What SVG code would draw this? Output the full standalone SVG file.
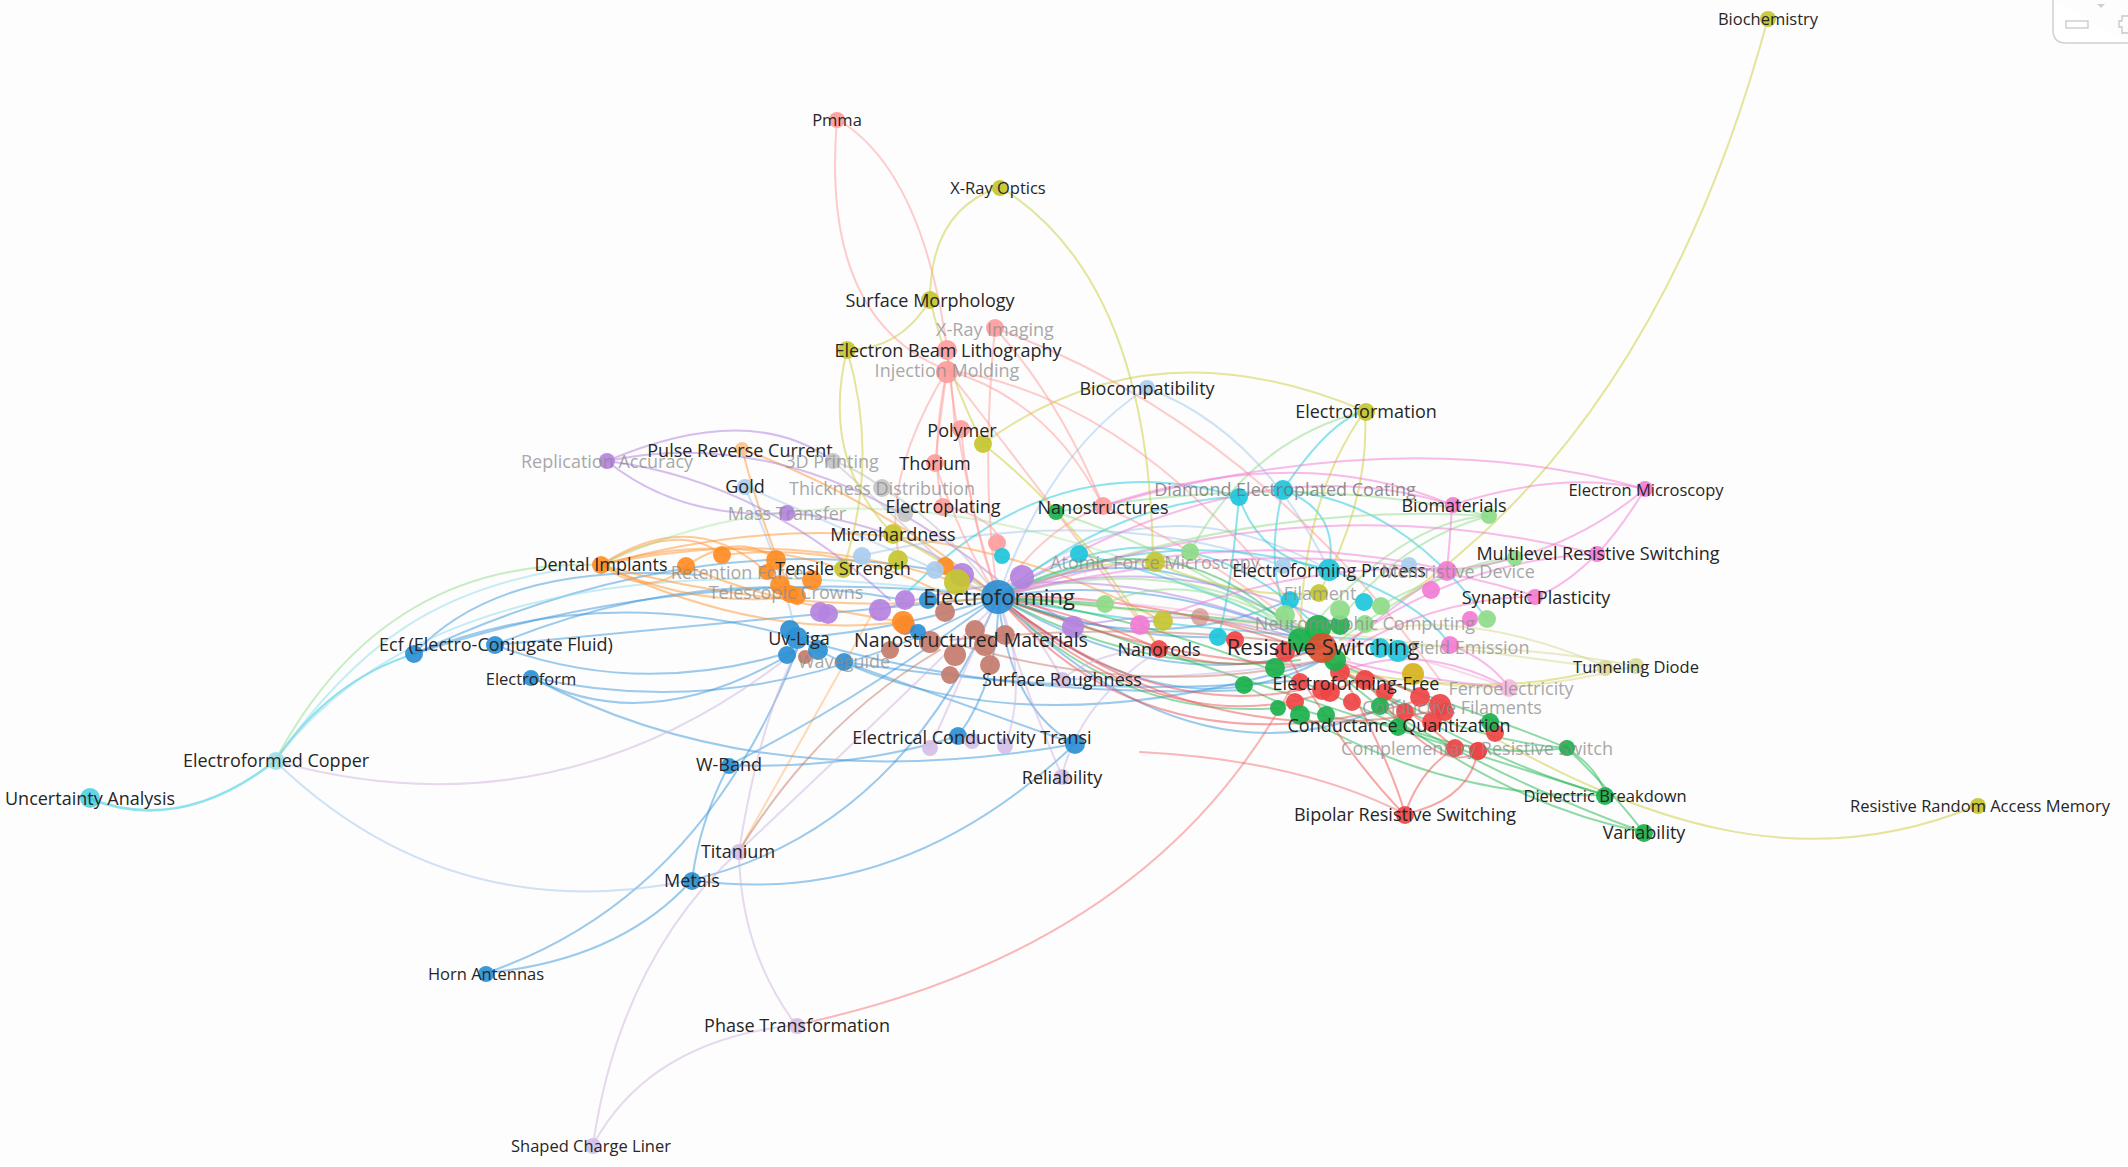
<svg xmlns="http://www.w3.org/2000/svg" width="2128" height="1167" viewBox="0 0 2128 1167">
<style>
.bg{fill:#fdfdfd}
circle{opacity:.92}
.c-blue{fill:#2b8fd3}.c-red{fill:#ef4444}.c-green{fill:#1bb14c}.c-olive{fill:#c5c530}.c-cyan{fill:#1ec6dc}
.c-orange{fill:#ff8c24}.c-purple{fill:#b482e0}.c-lpurple{fill:#d5bfe6}.c-brown{fill:#c47c6c}.c-pink{fill:#f27cd4}
.c-lred{fill:#ff9c9c}.c-lblue{fill:#a9cdee}.c-lgreen{fill:#8edb89}.c-grey{fill:#c4c4c4}.c-lcyan{fill:#a0e0ea}
.c-lolive{fill:#dadb98}.c-lorange{fill:#ffc38a}.c-lpink{fill:#f8b8dc}.c-dred{fill:#d8502e}.c-gold{fill:#d6b21e}
#edges path{fill:none;stroke-width:2;stroke-opacity:.5;stroke-linecap:round}
.e-blue{stroke:#3a98dc}.e-red{stroke:#f05050}.e-green{stroke:#22b552}.e-olive{stroke:#cccc3a}.e-cyan{stroke:#1ec8de}
.e-orange{stroke:#ff9530}.e-purple{stroke:#b07ee0}.e-lpurple{stroke:#cdb4e2}.e-lred{stroke:#ff9a9a}.e-lblue{stroke:#9fc6ee}
.e-lgreen{stroke:#8fdc88}.e-grey{stroke:#bdbdbd}.e-brown{stroke:#c47a6a}.e-lcyan{stroke:#8fdcea}.e-pink{stroke:#f27ad6}.e-lolive{stroke:#d8d890}.e-lpink{stroke:#f6b0d6}
text{font-family:"Open Sans","Noto Sans","DejaVu Sans",sans-serif;font-size:18px;text-anchor:middle;dominant-baseline:central;fill:#262626}
.s{font-size:16.5px}.xl{font-size:22px}.l{font-size:19.5px}
.f{fill:#8c8c8c;opacity:.75}
</style>
<rect class="bg" x="0" y="0" width="2128" height="1167"/>
<g id="ui-corner">
<path d="M2053,0 V30 Q2053,43 2066,43 H2128" fill="#ffffff" stroke="#d0d0d0" stroke-width="1.5"/>
<rect x="2066" y="21" width="22" height="7" fill="none" stroke="#c8c8c8" stroke-width="1.3"/>
<path d="M2097,4 l4,4 l4,-4 z" fill="#d0d0d0"/>
<path d="M2128,16 h-6 v5 h-3 v6 h3 v6 h6" fill="none" stroke="#c8c8c8" stroke-width="1.3"/>
</g>
<g id="edges">
<path class="e-blue" d="M998,597 Q1160,520 1323,647"/>
<path class="e-blue" d="M998,597 Q1160,570 1323,647"/>
<path class="e-blue" d="M998,597 Q1170,700 1323,647"/>
<path class="e-blue" d="M998,597 Q1170,740 1323,660"/>
<path class="e-blue" d="M998,597 Q700,560 414,654"/>
<path class="e-blue" d="M998,597 Q760,620 495,645"/>
<path class="e-blue" d="M998,597 Q760,730 531,677"/>
<path class="e-blue" d="M998,597 Q900,630 797,638"/>
<path class="e-blue" d="M998,597 Q860,700 729,765"/>
<path class="e-blue" d="M998,597 Q900,830 692,880"/>
<path class="e-blue" d="M486,973 Q700,900 797,650"/>
<path class="e-blue" d="M486,973 Q620,960 692,880"/>
<path class="e-blue" d="M692,880 Q900,910 1075,744"/>
<path class="e-blue" d="M692,880 Q700,820 729,765"/>
<path class="e-blue" d="M729,765 Q850,770 958,736"/>
<path class="e-blue" d="M998,597 Q1010,710 1075,744"/>
<path class="e-blue" d="M414,654 Q600,580 797,638"/>
<path class="e-blue" d="M495,645 Q640,700 797,650"/>
<path class="e-blue" d="M531,677 Q650,740 797,650"/>
<path class="e-blue" d="M414,654 Q500,560 700,575"/>
<path class="e-blue" d="M998,597 Q1000,680 958,736"/>
<path class="e-blue" d="M844,662 Q950,700 1075,744"/>
<path class="e-blue" d="M998,597 Q1200,800 1400,700"/>
<path class="e-blue" d="M797,638 Q1000,760 1323,660"/>
<path class="e-blue" d="M531,677 Q760,800 1075,744"/>
<path class="e-blue" d="M998,597 Q1120,640 1218,637"/>
<path class="e-blue" d="M998,597 Q1150,660 1290,600"/>
<path class="e-blue" d="M797,638 Q1000,700 1250,690"/>
<path class="e-blue" d="M844,662 Q1100,700 1300,680"/>
<path class="e-blue" d="M414,654 Q700,520 960,575"/>
<path class="e-blue" d="M495,645 Q700,560 905,600"/>
<path class="e-lblue" d="M998,597 Q1150,470 1329,570"/>
<path class="e-lblue" d="M1147,388 Q1050,450 998,597"/>
<path class="e-lblue" d="M1147,388 Q1260,430 1329,570"/>
<path class="e-lblue" d="M860,556 Q1100,500 1283,566"/>
<path class="e-lblue" d="M744,486 Q870,540 998,597"/>
<path class="e-lblue" d="M744,486 Q780,560 797,638"/>
<path class="e-cyan" d="M88,798 Q180,835 275,761" style="stroke-width:2.6"/>
<path class="e-cyan" d="M275,761 Q330,680 414,654"/>
<path class="e-lcyan" d="M275,761 C360,640 440,590 560,570"/>
<path class="e-cyan" d="M1239,497 Q1260,560 1329,570"/>
<path class="e-cyan" d="M1283,490 Q1340,510 1329,570"/>
<path class="e-cyan" d="M1239,497 Q1120,500 998,597"/>
<path class="e-cyan" d="M1283,490 Q1260,580 1300,640"/>
<path class="e-cyan" d="M1283,490 Q1330,420 1365,411"/>
<path class="e-cyan" d="M1329,570 Q1160,520 998,597"/>
<path class="e-cyan" d="M1079,554 Q1200,580 1323,647"/>
<path class="e-cyan" d="M998,597 Q1160,630 1380,640"/>
<path class="e-cyan" d="M1239,497 Q1050,440 900,600"/>
<path class="e-cyan" d="M1239,497 Q1230,600 1218,637"/>
<path class="e-cyan" d="M998,597 Q1180,480 1330,640"/>
<path class="e-cyan" d="M1283,490 Q1400,500 1487,619"/>
<path class="e-cyan" d="M1329,570 Q1420,600 1450,645"/>
<path class="e-lcyan" d="M275,761 C380,620 600,540 998,597"/>
<path class="e-lgreen" d="M275,761 C350,620 460,560 601,565"/>
<path class="e-lblue" d="M275,761 Q450,930 692,880"/>
<path class="e-lpurple" d="M275,761 Q560,840 797,650"/>
<path class="e-orange" d="M601,565 Q800,520 998,597"/>
<path class="e-orange" d="M601,565 Q800,620 998,597"/>
<path class="e-orange" d="M601,565 Q720,530 843,569"/>
<path class="e-orange" d="M601,565 Q650,600 686,566"/>
<path class="e-orange" d="M686,566 Q740,530 776,560"/>
<path class="e-orange" d="M742,449 Q760,520 790,590"/>
<path class="e-orange" d="M601,565 Q900,480 1160,620"/>
<path class="e-orange" d="M880,600 Q790,760 739,851" style="stroke-opacity:.35"/>
<path class="e-orange" d="M722,555 Q850,540 955,600"/>
<path class="e-orange" d="M601,565 Q700,500 780,585"/>
<path class="e-orange" d="M601,565 Q760,640 900,622"/>
<path class="e-orange" d="M742,449 Q880,500 998,597"/>
<path class="e-orange" d="M601,565 Q680,520 722,555"/>
<path class="e-orange" d="M601,565 Q700,610 797,596"/>
<path class="e-orange" d="M686,566 Q760,600 903,622"/>
<path class="e-purple" d="M607,461 Q680,520 787,513"/>
<path class="e-purple" d="M607,461 Q800,420 998,580"/>
<path class="e-purple" d="M607,461 Q760,480 890,600"/>
<path class="e-purple" d="M787,513 Q900,520 998,597"/>
<path class="e-purple" d="M998,597 Q1040,600 1073,627"/>
<path class="e-purple" d="M1073,627 Q1200,600 1323,647"/>
<path class="e-purple" d="M607,461 Q750,400 833,461"/>
<path class="e-purple" d="M998,597 Q1160,545 1340,625"/>
<path class="e-purple" d="M880,610 Q1100,540 1323,647"/>
<path class="e-grey" d="M833,461 Q860,470 882,488"/>
<path class="e-grey" d="M882,488 Q940,520 998,597"/>
<path class="e-grey" d="M833,461 Q900,520 960,580"/>
<path class="e-lred" d="M837,119 Q820,320 947,370"/>
<path class="e-lred" d="M837,119 Q940,180 955,430"/>
<path class="e-lred" d="M947,350 Q960,480 998,597"/>
<path class="e-lred" d="M947,370 Q940,420 935,463"/>
<path class="e-lred" d="M947,370 Q930,450 942,505"/>
<path class="e-lred" d="M947,370 Q1050,400 1103,506"/>
<path class="e-lred" d="M947,370 Q1150,400 1323,647"/>
<path class="e-lred" d="M995,328 Q980,480 998,597"/>
<path class="e-lred" d="M995,328 Q1060,400 1103,506"/>
<path class="e-lred" d="M961,429 Q970,520 998,597"/>
<path class="e-lred" d="M935,463 Q960,540 998,597"/>
<path class="e-lred" d="M1103,506 Q1220,560 1323,647"/>
<path class="e-lred" d="M1103,506 Q1040,530 998,597"/>
<path class="e-lred" d="M942,505 Q1000,520 1000,545"/>
<path class="e-lred" d="M947,370 Q880,480 900,560"/>
<path class="e-lred" d="M995,328 Q1250,420 1440,680"/>
<path class="e-lred" d="M947,370 Q1010,450 1160,649"/>
<path class="e-olive" d="M1000,187 Q930,210 930,300"/>
<path class="e-olive" d="M1000,187 Q1150,280 1153,562"/>
<path class="e-olive" d="M930,300 Q900,350 847,350"/>
<path class="e-olive" d="M930,300 Q950,380 983,444"/>
<path class="e-olive" d="M847,350 Q820,460 893,534"/>
<path class="e-olive" d="M847,350 Q880,460 843,569"/>
<path class="e-olive" d="M983,444 Q1150,320 1365,411"/>
<path class="e-olive" d="M1365,411 Q1370,500 1319,593"/>
<path class="e-olive" d="M1365,411 Q1300,500 1300,650"/>
<path class="e-olive" d="M1768,18 Q1660,420 1400,600"/>
<path class="e-olive" d="M1153,562 Q1080,560 998,597"/>
<path class="e-olive" d="M983,444 Q1080,520 1159,649"/>
<path class="e-lolive" d="M1605,666 Q1450,600 1340,640"/>
<path class="e-lolive" d="M1635,666 Q1500,700 1420,680"/>
<path class="e-lolive" d="M998,597 Q1250,620 1605,668"/>
<path class="e-lolive" d="M1323,647 Q1500,640 1636,666"/>
<path class="e-olive" d="M1340,670 Q1500,700 1605,668"/>
<path class="e-olive" d="M1978,805 C1800,880 1640,820 1480,730"/>
<path class="e-olive" d="M893,534 Q940,560 998,597"/>
<path class="e-olive" d="M1153,562 Q1240,600 1319,593"/>
<path class="e-lgreen" d="M1365,411 Q1250,440 1190,552"/>
<path class="e-lgreen" d="M1489,516 Q1400,540 1340,620"/>
<path class="e-lgreen" d="M1105,604 Q1200,560 1323,647"/>
<path class="e-lgreen" d="M1056,512 Q1200,560 1300,640"/>
<path class="e-lgreen" d="M1323,647 Q900,420 601,565" style="stroke-opacity:.35"/>
<path class="e-lgreen" d="M1489,516 Q1300,470 1056,512"/>
<path class="e-lgreen" d="M1515,558 Q1420,580 1381,606"/>
<path class="e-lgreen" d="M998,597 Q1200,540 1350,660"/>
<path class="e-lgreen" d="M998,597 Q1250,500 1489,516"/>
<path class="e-lgreen" d="M1340,640 Q1450,560 1515,558"/>
<path class="e-lgreen" d="M1300,640 Q1400,520 1489,516"/>
<path class="e-green" d="M1323,660 Q1480,760 1605,795"/>
<path class="e-green" d="M1323,660 Q1480,800 1643,832"/>
<path class="e-green" d="M1567,748 Q1600,770 1605,795"/>
<path class="e-green" d="M1567,748 Q1620,800 1643,832"/>
<path class="e-green" d="M998,597 Q1150,680 1300,660"/>
<path class="e-green" d="M998,597 Q1160,610 1320,630"/>
<path class="e-green" d="M1244,685 Q1300,720 1398,725"/>
<path class="e-green" d="M1398,725 Q1480,760 1567,748"/>
<path class="e-green" d="M1323,660 Q1500,720 1567,748"/>
<path class="e-green" d="M1105,604 Q1050,600 998,597"/>
<path class="e-green" d="M998,597 Q1120,720 1278,708"/>
<path class="e-green" d="M998,597 Q1180,500 1310,650"/>
<path class="e-green" d="M998,597 Q1180,620 1398,725"/>
<path class="e-green" d="M998,597 Q1300,700 1605,795"/>
<path class="e-green" d="M1323,660 Q1450,740 1567,748"/>
<path class="e-green" d="M1300,715 Q1450,800 1605,795"/>
<path class="e-green" d="M1380,706 Q1500,780 1643,832"/>
<path class="e-red" d="M1340,670 Q1390,760 1405,814"/>
<path class="e-red" d="M1455,748 Q1420,770 1405,814"/>
<path class="e-red" d="M1478,750 Q1470,800 1405,814"/>
<path class="e-red" d="M1323,647 Q1240,680 1159,649"/>
<path class="e-red" d="M998,597 Q1160,660 1300,665"/>
<path class="e-red" d="M998,597 Q1150,720 1300,690"/>
<path class="e-red" d="M796,1025 Q1150,950 1290,690" style="stroke-opacity:.4"/>
<path class="e-red" d="M1159,649 Q1100,620 998,597"/>
<path class="e-red" d="M1323,660 Q1400,700 1455,748"/>
<path class="e-red" d="M1140,752 Q1300,760 1405,814" style="stroke-opacity:.4"/>
<path class="e-red" d="M998,597 Q1200,760 1440,710"/>
<path class="e-red" d="M998,597 Q1180,760 1360,680"/>
<path class="e-red" d="M998,597 Q1150,780 1420,700"/>
<path class="e-red" d="M998,597 Q1200,590 1440,705"/>
<path class="e-red" d="M1365,680 Q1440,780 1478,751"/>
<path class="e-red" d="M1285,652 Q1350,760 1405,815"/>
<path class="e-pink" d="M1645,489 Q1560,560 1447,570"/>
<path class="e-pink" d="M1645,489 Q1620,530 1597,554"/>
<path class="e-pink" d="M1452,505 Q1450,540 1447,570"/>
<path class="e-pink" d="M1597,554 Q1460,560 1350,640"/>
<path class="e-pink" d="M1535,596 Q1430,600 1350,650"/>
<path class="e-pink" d="M998,597 Q1250,440 1452,505"/>
<path class="e-pink" d="M1103,506 Q1300,440 1452,505"/>
<path class="e-pink" d="M1450,645 Q1490,660 1509,688"/>
<path class="e-pink" d="M1447,570 Q1400,600 1340,650"/>
<path class="e-pink" d="M1140,625 Q1300,560 1447,570"/>
<path class="e-pink" d="M1509,688 Q1420,680 1340,660"/>
<path class="e-pink" d="M1452,505 Q1560,470 1645,489"/>
<path class="e-pink" d="M1597,554 Q1560,590 1535,596"/>
<path class="e-pink" d="M998,597 Q1220,520 1447,570"/>
<path class="e-pink" d="M998,597 Q1300,480 1597,554"/>
<path class="e-pink" d="M998,597 Q1300,520 1535,596"/>
<path class="e-pink" d="M1103,506 Q1400,420 1645,489"/>
<path class="e-pink" d="M1340,672 Q1420,640 1509,688"/>
<path class="e-lpink" d="M998,597 Q1260,600 1509,688"/>
<path class="e-lpurple" d="M1062,679 Q1030,620 998,597"/>
<path class="e-lpurple" d="M1062,776 Q1020,680 998,597"/>
<path class="e-lpurple" d="M739,851 Q900,700 990,610"/>
<path class="e-lpurple" d="M796,1025 Q740,950 739,851"/>
<path class="e-lpurple" d="M593,1145 Q620,960 739,851"/>
<path class="e-lpurple" d="M593,1145 Q650,1040 796,1025"/>
<path class="e-lpurple" d="M739,851 Q760,720 797,650"/>
<path class="e-lpurple" d="M930,748 Q960,680 998,597"/>
<path class="e-lpurple" d="M1005,746 Q1030,680 998,597"/>
<path class="e-lpurple" d="M1062,679 Q1200,680 1323,660"/>
<path class="e-lpurple" d="M1062,776 Q1080,700 1160,650"/>
<path class="e-lpurple" d="M1062,679 Q1100,650 1159,649"/>
<path class="e-brown" d="M739,851 Q820,720 940,650"/>
<path class="e-brown" d="M960,645 Q1150,700 1323,660"/>
<path class="e-brown" d="M1200,617 Q1260,630 1323,647"/>
<path class="e-brown" d="M950,640 Q1150,620 1323,647"/>
</g>
<g id="n-u1"><circle class="c-purple" cx="820" cy="612" r="10"/></g>
<g id="n-u2"><circle class="c-purple" cx="880" cy="610" r="11"/></g>
<g id="n-u3"><circle class="c-purple" cx="905" cy="600" r="10"/></g>
<g id="n-u4"><circle class="c-purple" cx="962" cy="575" r="12"/></g>
<g id="n-u5"><circle class="c-purple" cx="1022" cy="577" r="12"/></g>
<g id="n-u6"><circle class="c-purple" cx="1073" cy="627" r="11"/></g>
<g id="n-u7"><circle class="c-purple" cx="828" cy="614" r="10"/></g>
<g id="n-u8"><circle class="c-brown" cx="905" cy="625" r="10"/></g>
<g id="n-u9"><circle class="c-brown" cx="930" cy="642" r="11"/></g>
<g id="n-u10"><circle class="c-brown" cx="955" cy="655" r="11"/></g>
<g id="n-u11"><circle class="c-brown" cx="985" cy="645" r="11"/></g>
<g id="n-u12"><circle class="c-brown" cx="945" cy="612" r="10"/></g>
<g id="n-u13"><circle class="c-brown" cx="890" cy="650" r="9"/></g>
<g id="n-u14"><circle class="c-brown" cx="1005" cy="635" r="10"/></g>
<g id="n-u15"><circle class="c-brown" cx="950" cy="675" r="9"/></g>
<g id="n-u16"><circle class="c-brown" cx="990" cy="665" r="10"/></g>
<g id="n-u17"><circle class="c-brown" cx="805" cy="657" r="7"/></g>
<g id="n-u18"><circle class="c-orange" cx="722" cy="555" r="9"/></g>
<g id="n-u19"><circle class="c-orange" cx="776" cy="560" r="10"/></g>
<g id="n-u20"><circle class="c-orange" cx="780" cy="585" r="10"/></g>
<g id="n-u21"><circle class="c-orange" cx="797" cy="596" r="9"/></g>
<g id="n-u22"><circle class="c-orange" cx="812" cy="580" r="10"/></g>
<g id="n-u23"><circle class="c-orange" cx="903" cy="622" r="11"/></g>
<g id="n-u24"><circle class="c-orange" cx="945" cy="566" r="9"/></g>
<g id="n-u25"><circle class="c-orange" cx="767" cy="572" r="8"/></g>
<g id="n-u26"><circle class="c-olive" cx="898" cy="560" r="10"/></g>
<g id="n-u27"><circle class="c-olive" cx="957" cy="582" r="13"/></g>
<g id="n-u28"><circle class="c-lblue" cx="862" cy="556" r="9"/></g>
<g id="n-u29"><circle class="c-lblue" cx="935" cy="570" r="9"/></g>
<g id="n-u30"><circle class="c-blue" cx="928" cy="600" r="9"/></g>
<g id="n-u31"><circle class="c-blue" cx="918" cy="632" r="8"/></g>
<g id="n-u32"><circle class="c-lred" cx="997" cy="543" r="9"/></g>
<g id="n-u33"><circle class="c-cyan" cx="1002" cy="556" r="8"/></g>
<g id="n-u34"><circle class="c-blue" cx="787" cy="655" r="9"/></g>
<g id="n-u35"><circle class="c-blue" cx="818" cy="650" r="10"/></g>
<g id="n-u36"><circle class="c-lgreen" cx="1105" cy="604" r="9"/></g>
<g id="n-u37"><circle class="c-pink" cx="1140" cy="625" r="10"/></g>
<g id="n-u38"><circle class="c-olive" cx="1163" cy="621" r="10"/></g>
<g id="n-u39"><circle class="c-brown" cx="1200" cy="617" r="9" style="opacity:.6"/></g>
<g id="n-u40"><circle class="c-cyan" cx="1079" cy="554" r="9"/></g>
<g id="n-u41"><circle class="c-lgreen" cx="1190" cy="552" r="9"/></g>
<g id="n-u42"><circle class="c-green" cx="1056" cy="512" r="8"/></g>
<g id="n-u43"><circle class="c-cyan" cx="1218" cy="637" r="9"/></g>
<g id="n-u44"><circle class="c-cyan" cx="1290" cy="600" r="9"/></g>
<g id="n-u45"><circle class="c-cyan" cx="1364" cy="602" r="9"/></g>
<g id="n-u46"><circle class="c-cyan" cx="1398" cy="651" r="11"/></g>
<g id="n-u47"><circle class="c-cyan" cx="1380" cy="648" r="10"/></g>
<g id="n-u48"><circle class="c-red" cx="1235" cy="640" r="9"/></g>
<g id="n-u49"><circle class="c-red" cx="1285" cy="652" r="10"/></g>
<g id="n-u50"><circle class="c-red" cx="1340" cy="672" r="10"/></g>
<g id="n-u51"><circle class="c-red" cx="1365" cy="680" r="10"/></g>
<g id="n-u52"><circle class="c-red" cx="1385" cy="692" r="9"/></g>
<g id="n-u53"><circle class="c-red" cx="1300" cy="682" r="9"/></g>
<g id="n-u54"><circle class="c-red" cx="1330" cy="692" r="10"/></g>
<g id="n-u55"><circle class="c-red" cx="1420" cy="697" r="10"/></g>
<g id="n-u56"><circle class="c-red" cx="1405" cy="712" r="9"/></g>
<g id="n-u57"><circle class="c-red" cx="1440" cy="705" r="11"/></g>
<g id="n-u58"><circle class="c-red" cx="1432" cy="722" r="10"/></g>
<g id="n-u59"><circle class="c-red" cx="1455" cy="748" r="9"/></g>
<g id="n-u60"><circle class="c-red" cx="1478" cy="751" r="9"/></g>
<g id="n-u61"><circle class="c-red" cx="1295" cy="702" r="9"/></g>
<g id="n-u62"><circle class="c-red" cx="1352" cy="702" r="9"/></g>
<g id="n-u63"><circle class="c-red" cx="1495" cy="733" r="9"/></g>
<g id="n-u64"><circle class="c-green" cx="1300" cy="640" r="12"/></g>
<g id="n-u65"><circle class="c-green" cx="1318" cy="628" r="13"/></g>
<g id="n-u66"><circle class="c-green" cx="1340" cy="625" r="10"/></g>
<g id="n-u67"><circle class="c-green" cx="1275" cy="668" r="10"/></g>
<g id="n-u68"><circle class="c-green" cx="1244" cy="685" r="9"/></g>
<g id="n-u69"><circle class="c-green" cx="1300" cy="715" r="10"/></g>
<g id="n-u70"><circle class="c-green" cx="1278" cy="708" r="8"/></g>
<g id="n-u71"><circle class="c-green" cx="1326" cy="715" r="9"/></g>
<g id="n-u72"><circle class="c-green" cx="1380" cy="706" r="9"/></g>
<g id="n-u73"><circle class="c-green" cx="1490" cy="722" r="9"/></g>
<g id="n-u74"><circle class="c-green" cx="1335" cy="660" r="11"/></g>
<g id="n-u75"><circle class="c-lgreen" cx="1285" cy="615" r="10"/></g>
<g id="n-u76"><circle class="c-lgreen" cx="1340" cy="610" r="10"/></g>
<g id="n-u77"><circle class="c-lgreen" cx="1381" cy="606" r="9"/></g>
<g id="n-u78"><circle class="c-lgreen" cx="1487" cy="619" r="9"/></g>
<g id="n-u79"><circle class="c-lgreen" cx="1515" cy="558" r="8"/></g>
<g id="n-u80"><circle class="c-gold" cx="1413" cy="674" r="11"/></g>
<g id="n-u81"><circle class="c-pink" cx="1431" cy="590" r="9"/></g>
<g id="n-u82"><circle class="c-pink" cx="1470" cy="619" r="8"/></g>
<g id="n-u83"><circle class="c-lblue" cx="1283" cy="566" r="8"/></g>
<g id="n-u84"><circle class="c-lblue" cx="1409" cy="565" r="8"/></g>
<g id="n-u85"><circle class="c-olive" cx="847" cy="350" r="9"/></g>
<g id="n-u86"><circle class="c-olive" cx="983" cy="444" r="9"/></g>
<g id="n-u87"><circle class="c-grey" cx="905" cy="514" r="8"/></g>
<g id="n-u88"><circle class="c-lgreen" cx="1489" cy="516" r="8"/></g>
<g id="n-u89"><circle class="c-cyan" cx="1239" cy="497" r="9"/></g>
<g id="n-u90"><circle class="c-lpurple" cx="930" cy="748" r="8"/></g>
<g id="n-u91"><circle class="c-lpurple" cx="1005" cy="746" r="8"/></g>
<g id="n-u92"><circle class="c-blue" cx="1075" cy="744" r="10"/></g>
<g id="n-u93"><circle class="c-blue" cx="414" cy="654" r="9"/></g>
<g id="n-u94"><circle class="c-lolive" cx="1605" cy="668" r="8"/></g>
<g id="n-u95"><circle class="c-green" cx="1567" cy="748" r="8"/></g>
<g id="n-u96"><circle class="c-lblue" cx="1147" cy="388" r="8"/></g>
<g id="n-u97"><circle class="c-blue" cx="797" cy="638" r="11"/></g>
<g id="n-biochemistry"><circle class="c-olive" cx="1768" cy="19" r="8"/><text class="s" x="1768" y="18">Biochemistry</text></g>
<g id="n-pmma"><circle class="c-lred" cx="837" cy="120" r="8"/><text class="s" x="837" y="119">Pmma</text></g>
<g id="n-xray-optics"><circle class="c-olive" cx="1000" cy="188" r="8"/><text class="s" x="998" y="187">X-Ray Optics</text></g>
<g id="n-surface-morphology"><circle class="c-olive" cx="930" cy="300" r="9"/><text x="930" y="300">Surface Morphology</text></g>
<g id="n-xray-imaging"><circle class="c-lred" cx="995" cy="328" r="9"/><text class="f" x="995" y="329">X-Ray Imaging</text></g>
<g id="n-ebl"><circle class="c-lred" cx="947" cy="350" r="10"/><text x="948" y="350">Electron Beam Lithography</text></g>
<g id="n-injection"><circle class="c-lred" cx="947" cy="372" r="11"/><text class="f" x="947" y="370">Injection Molding</text></g>
<g id="n-biocompatibility"><text x="1147" y="388">Biocompatibility</text></g>
<g id="n-electroformation"><circle class="c-olive" cx="1366" cy="412" r="9"/><text x="1366" y="411">Electroformation</text></g>
<g id="n-polymer"><circle class="c-lred" cx="961" cy="429" r="9"/><text x="962" y="430">Polymer</text></g>
<g id="n-thorium"><circle class="c-lred" cx="935" cy="463" r="9"/><text x="935" y="463">Thorium</text></g>
<g id="n-prc"><circle class="c-lorange" cx="742" cy="449" r="7"/><text x="740" y="450">Pulse Reverse Current</text></g>
<g id="n-replication"><circle class="c-purple" cx="607" cy="461" r="8"/><text class="f" x="607" y="461">Replication Accuracy</text></g>
<g id="n-3dprinting"><circle class="c-grey" cx="833" cy="461" r="8"/><text class="f" x="832" y="461">3D Printing</text></g>
<g id="n-gold"><circle class="c-lblue" cx="745" cy="487" r="8"/><text x="745" y="486">Gold</text></g>
<g id="n-thickness"><circle class="c-grey" cx="882" cy="488" r="9"/><text class="f" x="882" y="488">Thickness Distribution</text></g>
<g id="n-mass-transfer"><circle class="c-purple" cx="787" cy="513" r="8"/><text class="f" x="787" y="513">Mass Transfer</text></g>
<g id="n-electroplating"><circle class="c-lred" cx="943" cy="507" r="9"/><text x="943" y="506">Electroplating</text></g>
<g id="n-nanostructures"><circle class="c-lred" cx="1103" cy="506" r="9"/><text x="1103" y="507">Nanostructures</text></g>
<g id="n-diamond"><circle class="c-cyan" cx="1283" cy="490" r="10"/><text class="f" x="1285" y="489" style="fill:#6c6c6c">Diamond Electroplated Coating</text></g>
<g id="n-biomaterials"><circle class="c-pink" cx="1453" cy="505" r="8"/><text x="1454" y="505">Biomaterials</text></g>
<g id="n-electron-microscopy"><circle class="c-pink" cx="1645" cy="489" r="8"/><text class="s" x="1646" y="489">Electron Microscopy</text></g>
<g id="n-microhardness"><circle class="c-olive" cx="893" cy="534" r="10"/><text x="893" y="534">Microhardness</text></g>
<g id="n-dental"><circle class="c-orange" cx="601" cy="565" r="9"/><text x="601" y="564">Dental Implants</text></g>
<g id="n-retention"><circle class="c-orange" cx="686" cy="566" r="9"/><text class="f" x="737" y="572">Retention Force</text></g>
<g id="n-telescopic"><circle class="c-orange" cx="790" cy="594" r="9"/><text class="f" x="786" y="592">Telescopic Crowns</text></g>
<g id="n-tensile"><circle class="c-olive" cx="843" cy="569" r="9"/><text x="843" y="568">Tensile Strength</text></g>
<g id="n-electroforming"><circle class="c-blue" cx="998" cy="597" r="17"/><text class="xl" x="999" y="596">Electroforming</text></g>
<g id="n-afm"><circle class="c-olive" cx="1155" cy="562" r="10"/><text class="f" x="1155" y="562">Atomic Force Microscopy</text></g>
<g id="n-ef-process"><circle class="c-cyan" cx="1329" cy="570" r="11"/><text x="1329" y="570">Electroforming Process</text></g>
<g id="n-memristive"><circle class="c-pink" cx="1447" cy="571" r="10"/><text class="f" x="1458" y="571">Memristive Device</text></g>
<g id="n-filament"><circle class="c-olive" cx="1319" cy="593" r="9"/><text class="f" x="1320" y="593">Filament</text></g>
<g id="n-multilevel"><circle class="c-pink" cx="1597" cy="554" r="8"/><text x="1598" y="553">Multilevel Resistive Switching</text></g>
<g id="n-synaptic"><circle class="c-pink" cx="1535" cy="597" r="8"/><text x="1536" y="597">Synaptic Plasticity</text></g>
<g id="n-neuromorphic"><circle class="c-lgreen" cx="1365" cy="624" r="9"/><text class="f" x="1365" y="623">Neuromorphic Computing</text></g>
<g id="n-resistive-switching"><circle class="c-dred" cx="1322" cy="648" r="15"/><text class="xl" x="1323" y="646">Resistive Switching</text></g>
<g id="n-nanorods"><circle class="c-red" cx="1159" cy="649" r="9"/><text x="1159" y="649">Nanorods</text></g>
<g id="n-field-emission"><circle class="c-pink" cx="1450" cy="645" r="9"/><text class="f" x="1470" y="647">Field Emission</text></g>
<g id="n-ferroelectricity"><circle class="c-lpink" cx="1509" cy="688" r="9"/><text class="f" x="1511" y="688">Ferroelectricity</text></g>
<g id="n-filaments"><circle class="c-red" cx="1445" cy="712" r="9"/><text class="f" x="1452" y="707">Conductive Filaments</text></g>
<g id="n-ef-free"><circle class="c-red" cx="1322" cy="690" r="10"/><text x="1356" y="683">Electroforming-Free</text></g>
<g id="n-conductance"><circle class="c-green" cx="1398" cy="727" r="9"/><text x="1399" y="725">Conductance Quantization</text></g>
<g id="n-complementary"><circle class="c-red" cx="1478" cy="751" r="9"/><text class="f" x="1477" y="748">Complementary Resistive Switch</text></g>
<g id="n-tunneling"><circle class="c-lolive" cx="1636" cy="666" r="8"/><text class="s" x="1636" y="666">Tunneling Diode</text></g>
<g id="n-dielectric"><circle class="c-green" cx="1605" cy="796" r="9"/><text class="s" x="1605" y="795">Dielectric Breakdown</text></g>
<g id="n-variability"><circle class="c-green" cx="1644" cy="833" r="9"/><text x="1644" y="832">Variability</text></g>
<g id="n-rram"><circle class="c-olive" cx="1978" cy="806" r="8"/><text class="s" x="1980" y="805">Resistive Random Access Memory</text></g>
<g id="n-bipolar"><circle class="c-red" cx="1405" cy="815" r="9"/><text x="1405" y="814">Bipolar Resistive Switching</text></g>
<g id="n-uv-liga"><circle class="c-blue" cx="790" cy="630" r="10"/><text x="799" y="638">Uv-Liga</text></g>
<g id="n-nanostructured-materials"><circle class="c-brown" cx="975" cy="630" r="10"/><text class="l" x="971" y="639">Nanostructured Materials</text></g>
<g id="n-waveguide"><circle class="c-blue" cx="844" cy="662" r="9"/><text class="f" x="844" y="661">Waveguide</text></g>
<g id="n-surface-roughness"><circle class="c-lpurple" cx="1062" cy="680" r="8"/><text x="1062" y="679">Surface Roughness</text></g>
<g id="n-ect"><circle class="c-blue" cx="958" cy="736" r="9"/><circle class="c-lpurple" cx="972" cy="741" r="8"/><text x="972" y="737">Electrical Conductivity Transi</text></g>
<g id="n-reliability"><circle class="c-lpurple" cx="1062" cy="777" r="8"/><text x="1062" y="777">Reliability</text></g>
<g id="n-w-band"><circle class="c-blue" cx="729" cy="766" r="8"/><text x="729" y="764">W-Band</text></g>
<g id="n-titanium"><circle class="c-lpurple" cx="739" cy="852" r="8"/><text x="738" y="851">Titanium</text></g>
<g id="n-metals"><circle class="c-blue" cx="692" cy="881" r="9"/><text x="692" y="880">Metals</text></g>
<g id="n-horn"><circle class="c-blue" cx="486" cy="974" r="8"/><text class="s" x="486" y="973">Horn Antennas</text></g>
<g id="n-phase"><circle class="c-lpurple" cx="797" cy="1026" r="8"/><text x="797" y="1025">Phase Transformation</text></g>
<g id="n-shaped"><circle class="c-lpurple" cx="593" cy="1146" r="8"/><text class="s" x="591" y="1145">Shaped Charge Liner</text></g>
<g id="n-ecf"><circle class="c-blue" cx="495" cy="645" r="9"/><text x="496" y="644">Ecf (Electro-Conjugate Fluid)</text></g>
<g id="n-electroform"><circle class="c-blue" cx="531" cy="678" r="8"/><text class="s" x="531" y="678">Electroform</text></g>
<g id="n-electroformed-copper"><circle class="c-lcyan" cx="276" cy="761" r="9"/><text x="276" y="760">Electroformed Copper</text></g>
<g id="n-uncertainty"><circle class="c-cyan" cx="90" cy="798" r="10" style="opacity:.7"/><text x="90" y="798">Uncertainty Analysis</text></g>
</svg>
